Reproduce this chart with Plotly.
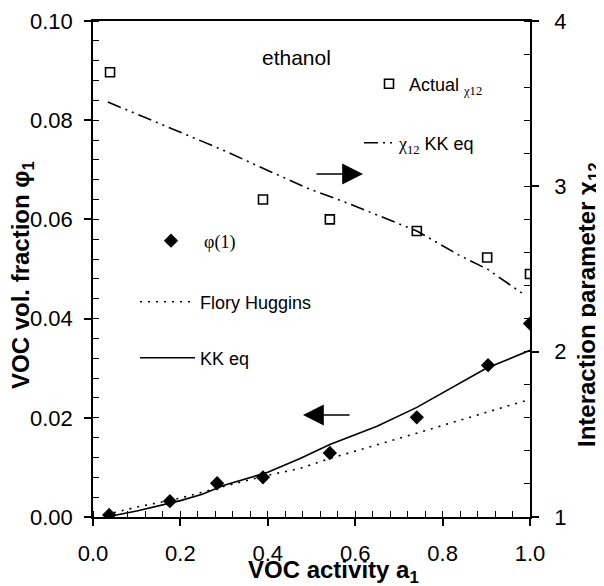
import plotly.graph_objects as go

# ---- data ----
a_phi = [0.037, 0.176, 0.284, 0.389, 0.542, 0.741, 0.904, 1.0]
phi_exp = [0.0004, 0.0032, 0.0068, 0.0080, 0.0129, 0.0201, 0.0306, 0.0390]

a_fh = [0.03, 0.1, 0.2, 0.3, 0.4, 0.474, 0.542, 0.65, 0.741, 0.9, 1.0]
phi_fh = [0.0005, 0.0020, 0.0038, 0.0062, 0.0084, 0.0098, 0.0118, 0.0145, 0.0169, 0.0211, 0.0237]

a_kk = [0.03, 0.1, 0.2, 0.25, 0.3, 0.4, 0.474, 0.542, 0.65, 0.741, 0.9, 1.0]
phi_kk = [0.0, 0.0012, 0.0033, 0.0046, 0.0064, 0.0090, 0.0118, 0.0146, 0.0183, 0.0221, 0.0300, 0.0336]

a_chi = [0.039, 0.389, 0.542, 0.741, 0.902, 1.0]
chi_actual = [3.69, 2.92, 2.80, 2.73, 2.57, 2.47]

a_chi_kk = [0.034, 0.160, 0.297, 0.405, 0.490, 0.581, 0.741, 0.840, 0.902, 0.984]
chi_kk = [3.51, 3.37, 3.22, 3.09, 2.99, 2.90, 2.73, 2.58, 2.50, 2.35]

x_ticks = [0.0, 0.2, 0.4, 0.6, 0.8, 1.0]
y_ticks = [0.00, 0.02, 0.04, 0.06, 0.08, 0.10]
y2_ticks = [1, 2, 3, 4]

SANS = "Liberation Sans, Arial, sans-serif"
SER = "<span style='font-family:Liberation Serif'>%s</span>"

# page offset of the figure (browser body margin)
OFF = 8
W, H = 604 - OFF, 586 - OFF
# plot area in page pixels
PL, PR, PT, PB = 93, 530, 21, 517


def pg(px, py):
    """page pixel -> paper coords"""
    return (px - PL) / float(PR - PL), (PB - py) / float(PB - PT)


fig = go.Figure()

fig.add_trace(go.Scatter(
    x=a_chi, y=chi_actual, yaxis="y2", mode="markers",
    marker=dict(symbol="square-open", size=9, color="black", line=dict(width=1.6)),
    name="Actual " + "<sub>" + SER % "χ12" + "</sub>", legend="legend"))
fig.add_trace(go.Scatter(
    x=a_chi_kk, y=chi_kk, yaxis="y2", mode="lines",
    line=dict(color="black", width=1.6, dash="14px,5px,2px,5px,2px,5px"),
    name=SER % "χ<sub>12</sub>" + " KK eq", legend="legend2"))
fig.add_trace(go.Scatter(
    x=a_phi, y=phi_exp, mode="markers",
    marker=dict(symbol="diamond", size=11, color="black"),
    name=SER % "φ(1)", legend="legend3"))
fig.add_trace(go.Scatter(
    x=a_fh, y=phi_fh, mode="lines",
    line=dict(color="black", width=1.6, dash="2px,6px"),
    name="Flory Huggins", legend="legend4"))
fig.add_trace(go.Scatter(
    x=a_kk, y=phi_kk, mode="lines",
    line=dict(color="black", width=1.6),
    name="KK eq", legend="legend5"))

leg_common = dict(bgcolor="rgba(0,0,0,0)", borderwidth=0,
                  font=dict(family=SANS, size=18, color="black"),
                  xanchor="left", yanchor="middle", itemclick=False)

lx, ly = pg(369, 84)
l2x, l2y = pg(359, 143)
l3x, l3y = pg(138, 241)
l4x, l4y = pg(135, 302)
l5x, l5y = pg(135, 358)

axis_common = dict(showgrid=False, zeroline=False, showline=True, linecolor="black", linewidth=1.5,
                   ticks="outside", ticklen=7, tickwidth=1.5, tickcolor="black",
                   tickfont=dict(family=SANS, size=22), automargin=False)
minor_common = dict(ticks="inside", ticklen=6, tickwidth=1.2, tickcolor="black")


def ann(text, px, py, size, angle=0):
    x, y = pg(px, py)
    return dict(text=text, x=x, y=y, xref="paper", yref="paper", xanchor="center", yanchor="middle",
                textangle=angle, showarrow=False, font=dict(family=SANS, size=size, color="black"))


def arrow(px_head, py, dx):
    x, y = pg(px_head, py)
    return dict(text="", x=x, y=y, xref="paper", yref="paper", ax=dx, ay=0, showarrow=True,
                arrowhead=2, arrowsize=3.2, arrowwidth=1.3, arrowcolor="black")


fig.update_layout(
    width=W, height=H,
    margin=dict(l=PL - OFF, r=W - (PR - OFF), t=PT - OFF, b=H - (PB - OFF), autoexpand=False),
    paper_bgcolor="white", plot_bgcolor="white",
    font=dict(family=SANS, color="black"),
    showlegend=True,
    legend=dict(x=lx, y=ly, itemwidth=30, **leg_common),
    legend2=dict(x=l2x, y=l2y, itemwidth=30, **leg_common),
    legend3=dict(x=l3x, y=l3y, itemwidth=56, **leg_common),
    legend4=dict(x=l4x, y=l4y, itemwidth=55, **leg_common),
    legend5=dict(x=l5x, y=l5y, itemwidth=55, **leg_common),
    xaxis=dict(
        range=[0, 1], tickvals=x_ticks, ticktext=["%.1f" % v for v in x_ticks],
        mirror=True, ticklabelstandoff=9,
        minor=dict(dtick=0.04, **minor_common),
        **axis_common,
    ),
    yaxis=dict(
        range=[0, 0.1], tickvals=y_ticks, ticktext=["%.2f" % v for v in y_ticks],
        ticklabelstandoff=7,
        minor=dict(dtick=0.004, **minor_common),
        **axis_common,
    ),
    yaxis2=dict(
        range=[1, 4], tickvals=y2_ticks, ticktext=[str(v) for v in y2_ticks],
        overlaying="y", side="right", anchor="x",
        ticklabelstandoff=11,
        minor=dict(dtick=0.2, **minor_common),
        **axis_common,
    ),
    annotations=[
        ann("<b>VOC activity a<sub>1</sub></b>", 333, 571, 24),
        ann("<b>VOC vol. fraction φ<sub>1</sub></b>", 22, 275, 24, -90),
        ann("<b>Interaction parameter χ<sub>12</sub></b>", 589, 305, 24, -90),
        ann("ethanol", 296, 58, 21),
        arrow(363, 174, -48),
        arrow(303, 415, 48),
    ],
)

fig.write_html("out.html")
